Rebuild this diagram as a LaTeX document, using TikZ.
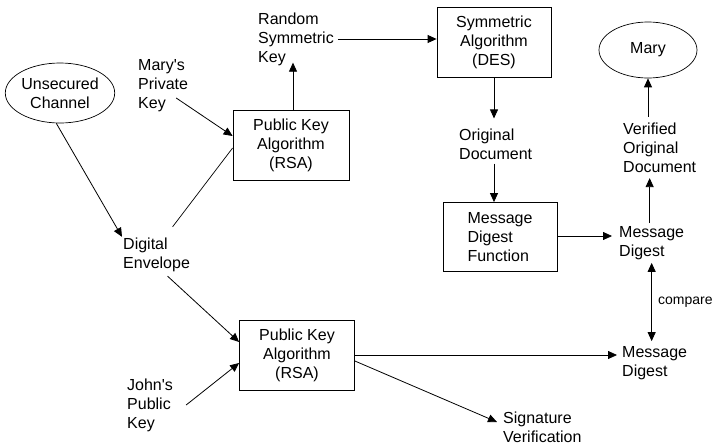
\documentclass[tikz,border=0pt]{standalone}
\usepackage{fontspec}
\setmainfont{Liberation Sans}
\usetikzlibrary{shapes.geometric,arrows.meta,calc}
\begin{document}
\begin{tikzpicture}[x=1pt,y=-1pt,
  every node/.style={font=\fontsize{16}{19}\selectfont},
  lbl/.style={align=left,inner sep=0pt},
  box/.style={draw,line width=0.8pt,align=center,minimum width=115pt,minimum height=70pt,inner sep=0pt},
  oval/.style={draw,ellipse,line width=0.7pt,align=center,inner sep=0pt},
  arr/.style={line width=0.8pt,-{Triangle[length=9pt,width=8pt]}},
  dbl/.style={line width=0.8pt,{Triangle[length=9pt,width=8pt]}-{Triangle[length=9pt,width=8pt]}},
  ln/.style={line width=0.7pt}]
\useasboundingbox (0,0) rectangle (716,445);
% nodes
\node[oval,minimum width=106pt,minimum height=60pt] (unsec) at (60,93) {Unsecured\\Channel};
\node[lbl,anchor=west] (mpk) at (138,86) {Mary\textquotesingle s\\Private\\Key};
\node[lbl,anchor=west] (rsk) at (258,39) {Random\\Symmetric\\Key};
\node[box,minimum width=116pt] (rsa1) at (291,145) {Public Key\\Algorithm\\(RSA)};
\node[box,minimum width=114pt] (des) at (494,42) {Symmetric\\Algorithm\\(DES)};
\node[lbl,anchor=west] (od) at (459,144) {Original\\Document};
\node[box,minimum width=114pt,minimum height=69pt,align=left] (mdf) at (500,237) {Message\\Digest\\Function};
\node[lbl,anchor=west] (md1) at (619,243) {Message\\Digest};
\node[lbl,anchor=west] (md2) at (622,363) {Message\\Digest};
\node[lbl,anchor=west,font=\fontsize{14}{17}\selectfont] (cmp) at (658,302) {compare};
\node[oval,minimum width=98pt,minimum height=56pt] (mary) at (648,50) {Mary};
\node[lbl,anchor=west] (vod) at (623,148) {Verified\\Original\\Document};
\node[lbl,anchor=west] (de) at (123,255) {Digital\\Envelope};
\node[box,minimum width=115pt] (rsa2) at (297,355) {Public Key\\Algorithm\\(RSA)};
\node[lbl,anchor=west] (jpk) at (127,405) {John\textquotesingle s\\Public\\Key};
\node[lbl,anchor=west] (sv) at (503,427) {Signature\\Verification};
% connectors
\draw[arr] (unsec.-97) -- ([shift={(-1,-1)}]de.north west);
\draw[arr] ([shift={(-12,12)}]mpk.east) -- ([yshift=9pt]rsa1.west);
\draw[arr] ([xshift=2pt]rsa1.north) -- ([shift={(2,-3)}]rsa1.north |- rsk.south);
\draw[arr] ([xshift=4pt]rsk.east) -- (rsk.east -| des.west);
\draw[arr] (des.south) -- ([yshift=10pt]des.south |- od.north);
\draw[arr] ([yshift=-4pt]des.south |- od.south) -- (des.south |- mdf.north);
\draw[ln] ([yshift=-3pt]rsa1.west) -- ([shift={(16,-11)}]de.north);
\draw[arr] ([shift={(11,4)}]de.south) -- ([yshift=13pt]rsa2.west);
\draw[arr] ([xshift=13pt]jpk.east) -- ([yshift=-8pt]rsa2.west);
\draw[arr] (rsa2.east) -- ([xshift=-5pt]rsa2.east -| md2.west);
\draw[arr] ([yshift=-6pt]rsa2.east) -- ([shift={(-6,-5)}]sv.west);
\draw[arr] ([yshift=1pt]mdf.east) -- ([shift={(-7,-1)}]mdf.east -| md1.west);
\draw[dbl] ([yshift=-3pt]md1.south) -- ([yshift=5pt]md1.south |- md2.north);
\draw[arr] ([shift={(-2,-3)}]md1.north) -- ([shift={(-2,5)}]md1.north |- vod.south);
\draw[arr] ([yshift=6pt]mary.south |- vod.north) -- (mary.south);
\end{tikzpicture}
\end{document}
